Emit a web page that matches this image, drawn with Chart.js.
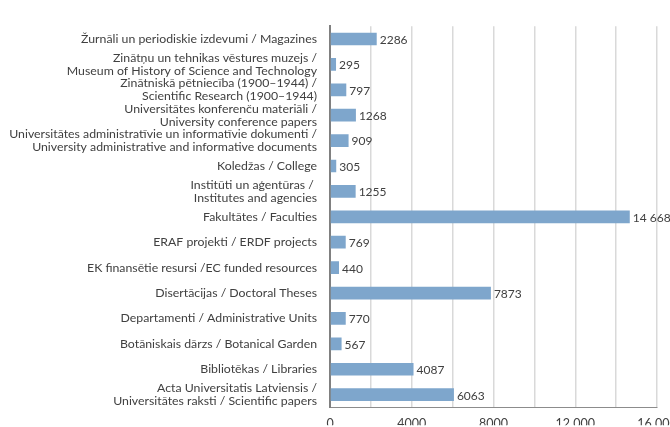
<!DOCTYPE html>
<html>
<head>
<meta charset="utf-8">
<script src="https://cdn.jsdelivr.net/npm/chart.js@4"></script>
<style>
  html,body{margin:0;padding:0;background:#fff;}
  #wrap{width:670px;height:427px;position:relative;}
</style>
</head>
<body>
<div id="wrap"><canvas id="c"></canvas></div>
<script>
// --- data, top to bottom as in the figure ---
const categories = [
  'Žurnāli un periodiskie izdevumi / Magazines',
  ['Zinātņu un tehnikas vēstures muzejs /', 'Museum of History of Science and Technology'],
  ['Zinātniskā pētniecība (1900–1944) /', 'Scientific Research (1900–1944)'],
  ['Universitātes konferenču materiāli /', 'University conference papers'],
  ['Universitātes administratīvie un informatīvie dokumenti /', 'University administrative and informative documents'],
  'Koledžas / College',
  ['Institūti un aģentūras / ', 'Institutes and agencies'],
  'Fakultātes / Faculties',
  'ERAF projekti / ERDF projects',
  'EK finansētie resursi /EC funded resources',
  'Disertācijas / Doctoral Theses',
  'Departamenti / Administrative Units',
  'Botāniskais dārzs / Botanical Garden',
  'Bibliotēkas / Libraries',
  ['Acta Universitatis Latviensis /', 'Universitātes raksti / Scientific papers']
];
const counts = [2286, 295, 797, 1268, 909, 305, 1255, 14668, 769, 440, 7873, 770, 567, 4087, 6063];
const xTicks = [0, 4000, 8000, 12000, 16000];

function fmt(v){
  // thousands separated by a space only from 10 000 up
  return v >= 10000 ? String(v).replace(/\B(?=(\d{3})+(?!\d))/g, ' ') : String(v);
}

const FONT = 'Lato, "Open Sans", sans-serif';
const TXT = '#404040';

// value labels at the end of each bar
const valueLabels = {
  id: 'valueLabels',
  afterDatasetsDraw(chart){
    const ctx = chart.ctx;
    const meta = chart.getDatasetMeta(0);
    ctx.save();
    ctx.font = '12px ' + FONT;
    ctx.fillStyle = TXT;
    ctx.textBaseline = 'middle';
    ctx.textAlign = 'left';
    meta.data.forEach((bar, i) => {
      ctx.fillText(fmt(counts[i]), bar.x + 3, bar.y + 1);
    });
    ctx.restore();
  }
};

new Chart(document.getElementById('c'), {
  type: 'bar',
  data: {
    labels: categories,
    datasets: [{
      data: counts,
      backgroundColor: '#7ea6cc',
      borderWidth: 0,
      categoryPercentage: 1,
      barPercentage: 0.5
    }]
  },
  options: {
    indexAxis: 'y',
    responsive: true,
    maintainAspectRatio: false,
    animation: false,
    layout: {padding: {top: 12, left: 0, right: 13, bottom: 0}},
    plugins: {legend: {display: false}, tooltip: {enabled: false}},
    scales: {
      x: {
        min: 0, max: 16000,
        afterBuildTicks(s){
          const t = [];
          for (let v = 0; v <= 16000; v += 2000) t.push({value: v});
          s.ticks = t;
        },
        afterFit(s){ s.height = 18; s.paddingRight = 0; s.paddingLeft = 0; },
        grid: {color: '#d9d9d9', lineWidth: 1.5, drawTicks: false},
        border: {color: '#8c8c8c', width: 1},
        ticks: {
          padding: 9,
          maxRotation: 0,
          autoSkip: false,
          color: TXT,
          font: {family: FONT, size: 12.5},
          callback: v => xTicks.includes(v) ? fmt(v) : ''
        }
      },
      y: {
        afterFit(s){ s.width = 330; },
        grid: {display: false, drawTicks: false},
        border: {color: '#808080', width: 2},
        ticks: {
          padding: 13,
          autoSkip: false,
          color: TXT,
          font: {family: FONT, size: 12.3, lineHeight: 1.08}
        }
      }
    }
  },
  plugins: [valueLabels]
});
</script>
</body>
</html>
